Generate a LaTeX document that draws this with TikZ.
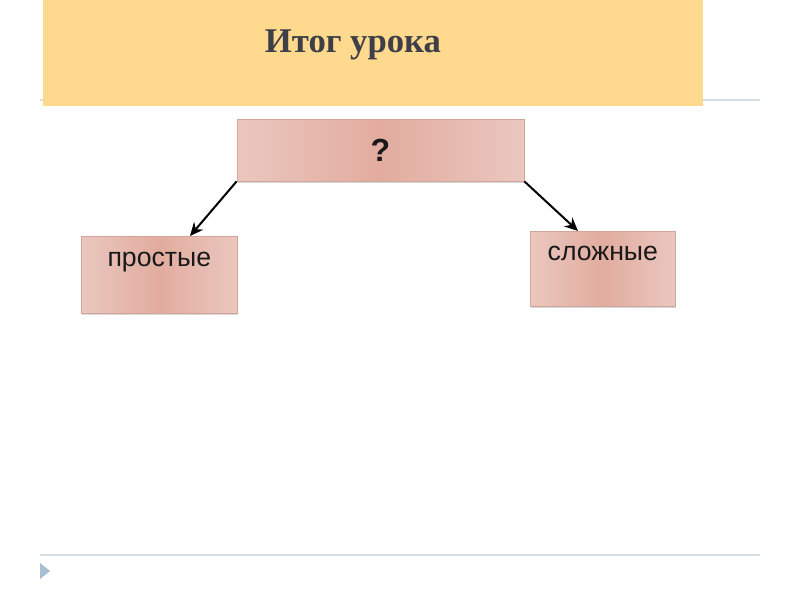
\documentclass[tikz,border=0pt]{standalone}
\usepackage{fontspec}
\setmainfont{Liberation Serif}
\setsansfont{Liberation Sans}
\usetikzlibrary{arrows.meta,shadows}
\definecolor{titlebg}{HTML}{FED98E}
\definecolor{titlefg}{HTML}{3F3F48}
\definecolor{rulec}{HTML}{D3DEE6}
\definecolor{tric}{HTML}{A7BDD1}
\definecolor{boxedge}{HTML}{EBC7BF}
\definecolor{boxmid}{HTML}{E2AC9F}
\definecolor{boxline}{HTML}{D2A59B}
\tikzset{
  box/.style={draw=boxline, line width=0.5pt, left color=boxedge, right color=boxedge, middle color=boxmid,
    drop shadow={opacity=0.3, shadow xshift=0.5pt, shadow yshift=-1.5pt},
    inner sep=0pt, font=\sffamily\fontsize{20}{24}\selectfont, text=black!90},
  arr/.style={-{Stealth[length=10pt,width=9pt]}, line width=1.5pt, black}
}
\begin{document}
\begin{tikzpicture}[x=0.75pt,y=-0.75pt]
\useasboundingbox (0,0) rectangle (800,600);
\fill[white] (0,0) rectangle (800,600);
% rules
\draw[rulec, line width=1.5pt] (40,100) -- (760,100);
\draw[rulec, line width=1.5pt] (40,555) -- (760,555);
\fill[tric] (40,563) -- (50,571) -- (40,579) -- cycle;
% title band
\fill[titlebg] (43,0) rectangle (703,106);
\node[anchor=base, text=titlefg, font=\bfseries\fontsize{26}{30}\selectfont, inner sep=0pt] (title) at (353,52) {Итог урока};
% boxes
\node[box, minimum width=287*0.75pt, minimum height=62*0.75pt, font=\sffamily\bfseries\fontsize{24}{28}\selectfont] (q) at (380.5,150) {?};
\node[box, minimum width=156*0.75pt, text height=22.5pt, text depth=35.25pt, anchor=north west] (p) at (81,236) {простые};
\node[box, minimum width=145*0.75pt, text height=21.75pt, text depth=34.5pt, anchor=north west] (s) at (530,231) {сложные};
% arrows
\draw[arr] (q.south west) -- ([xshift=81.75pt]p.north west);
\draw[arr] (q.south east) -- ([xshift=36pt]s.north west);
\end{tikzpicture}
\end{document}
